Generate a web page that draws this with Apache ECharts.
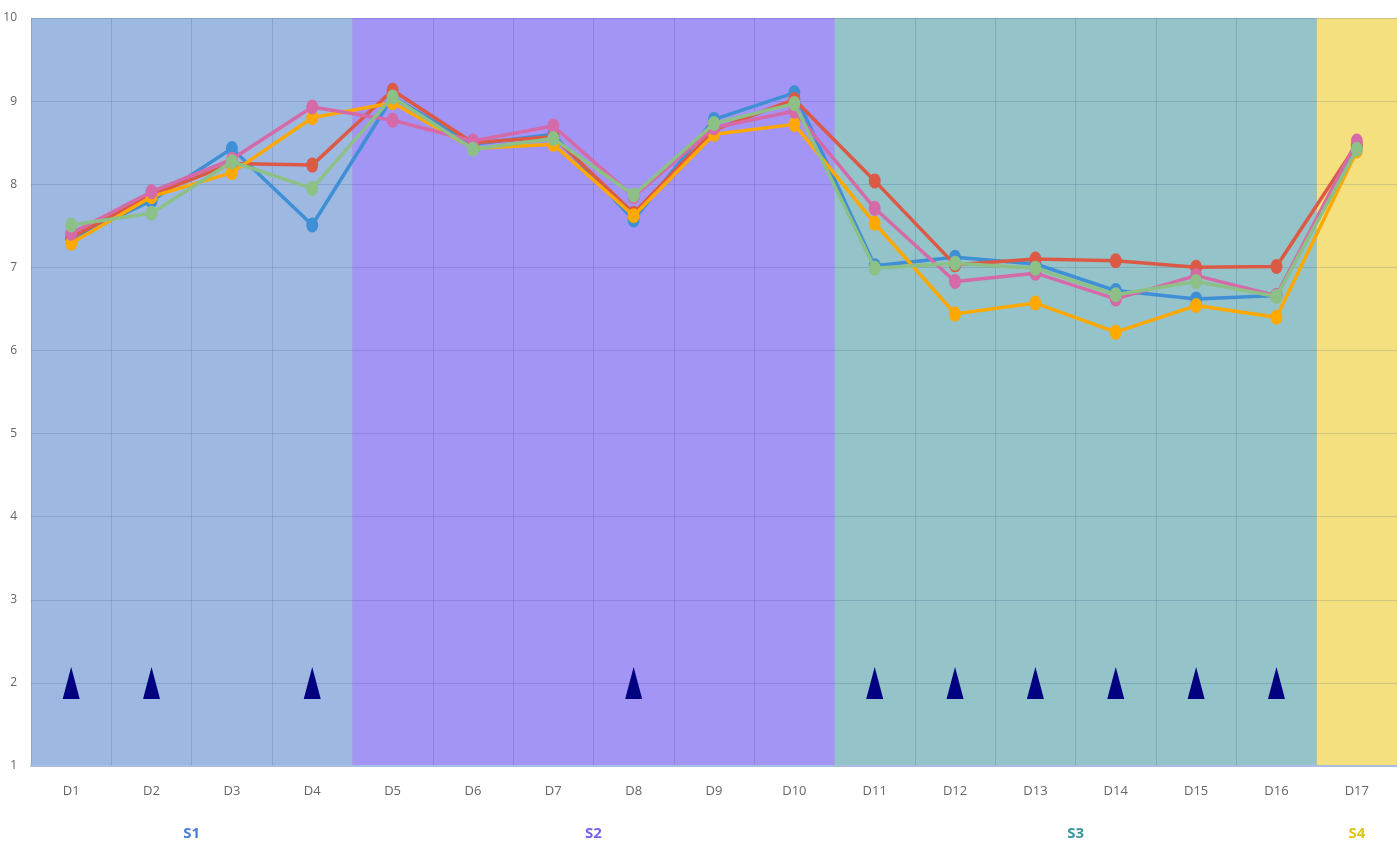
<!DOCTYPE html>
<html>
<head>
<meta charset="utf-8">
<script src="https://cdn.jsdelivr.net/npm/echarts@6/dist/echarts.min.js"></script>
<style>
  html, body { margin: 0; padding: 0; background: #fff; }
  #chart { width: 1397px; height: 846px; }
</style>
</head>
<body>
<div id="chart"></div>
<script>
var days = ['D1','D2','D3','D4','D5','D6','D7','D8','D9','D10','D11','D12','D13','D14','D15','D16','D17'];

var blueVals   = [7.35, 7.80, 8.43, 7.51, 9.05, 8.48, 8.60, 7.57, 8.78, 9.10, 7.02, 7.12, 7.04, 6.72, 6.62, 6.66, 8.45];
var redVals    = [7.36, 7.87, 8.25, 8.23, 9.13, 8.50, 8.57, 7.65, 8.65, 9.02, 8.04, 7.03, 7.10, 7.08, 7.00, 7.01, 8.48];
var orangeVals = [7.29, 7.85, 8.14, 8.80, 8.98, 8.43, 8.48, 7.62, 8.60, 8.72, 7.53, 6.44, 6.57, 6.22, 6.54, 6.40, 8.40];
var pinkVals   = [7.41, 7.91, 8.30, 8.93, 8.77, 8.52, 8.70, 7.85, 8.68, 8.88, 7.71, 6.83, 6.93, 6.62, 6.90, 6.66, 8.52];
var greenVals  = [7.51, 7.65, 8.27, 7.95, 9.05, 8.42, 8.55, 7.87, 8.73, 8.97, 6.99, 7.05, 6.99, 6.67, 6.83, 6.65, 8.42];

var markerDays = ['D1','D2','D4','D8','D11','D12','D13','D14','D15','D16'];
var markerLevel = 2;

// stages: name, first day index, last day index (0-based)
var stageNames = ['S1', 'S2', 'S3', 'S4'];
var stageFrom  = [0, 4, 10, 16];
var stageTo    = [3, 9, 15, 16];
var stageFill  = ['#9eb9e1', '#a295f6', '#94c3c9', '#f4e07f'];
var stageText  = ['#4a7ed6', '#7c5cf5', '#3a9797', '#e3c21a'];

var yTicks = [1, 10];

var chart = echarts.init(document.getElementById('chart'));

var stageLabelAt = {};
stageNames.forEach(function (n, i) {
  stageLabelAt[(stageFrom[i] + stageTo[i] + 1) / 2] = i;
});

var richStyles = {};
stageNames.forEach(function (n, i) {
  richStyles['s' + i] = { color: stageText[i], fontSize: 15, fontWeight: 'bold', fontFamily: 'Open Sans' };
});

var gridLine = { show: true, lineStyle: { color: 'rgba(40,50,110,0.16)', width: 1 } };

var lineSeries = function (name, color, vals, z) {
  return {
    name: name,
    type: 'line',
    data: vals,
    xAxisIndex: 0,
    z: z,
    symbol: 'circle',
    symbolSize: [12, 15],
    itemStyle: { color: color, opacity: 1 },
    lineStyle: { color: color, width: 3.5 },
    animation: false
  };
};

chart.setOption({
  backgroundColor: '#fff',
  grid: { left: 31, right: 0, top: 18, bottom: 80, containLabel: false, outerBoundsMode: 'none' },
  xAxis: [
    {
      type: 'category',
      data: days,
      boundaryGap: true,
      z: 2,
      axisTick: { show: false },
      axisLine: { lineStyle: { color: '#a9bde0', width: 2 } },
      axisLabel: { color: '#666', fontSize: 13, margin: 19, fontFamily: 'Open Sans' },
      splitLine: gridLine
    },
    {
      type: 'value',
      position: 'bottom',
      min: 0,
      max: days.length,
      interval: 0.5,
      z: 2,
      axisLine: { show: false },
      axisTick: { show: false },
      splitLine: { show: false },
      axisLabel: {
        margin: 60,
        showMinLabel: true,
        showMaxLabel: true,
        formatter: function (v) {
          var i = stageLabelAt[v];
          return i === undefined ? '' : '{s' + i + '|' + stageNames[i] + '}';
        },
        rich: richStyles
      }
    }
  ],
  yAxis: {
    type: 'value',
    min: yTicks[0],
    max: yTicks[1],
    interval: 1,
    z: 2,
    axisLine: { show: false },
    axisTick: { show: false },
    axisLabel: { color: '#666', fontSize: 12, margin: 14, fontFamily: 'Open Sans' },
    splitLine: gridLine
  },
  series: [
    {
      type: 'line',
      xAxisIndex: 1,
      data: [],
      z: 1,
      silent: true,
      markArea: {
        silent: true,
        data: stageNames.map(function (n, i) {
          return [
            { xAxis: stageFrom[i], itemStyle: { color: stageFill[i], opacity: 1 } },
            { xAxis: stageTo[i] + 1 }
          ];
        })
      }
    },
    lineSeries('blue', '#3f8fd6', blueVals, 3),
    lineSeries('red', '#dc5a45', redVals, 4),
    lineSeries('orange', '#ffa800', orangeVals, 5),
    lineSeries('pink', '#d56aa8', pinkVals, 6),
    lineSeries('green', '#8dc087', greenVals, 7),
    {
      name: 'marker',
      type: 'scatter',
      xAxisIndex: 0,
      z: 8,
      symbol: 'triangle',
      symbolSize: [17, 32],
      itemStyle: { color: '#000080', opacity: 1 },
      data: markerDays.map(function (d) { return [d, markerLevel]; }),
      animation: false
    }
  ]
});
</script>
</body>
</html>
